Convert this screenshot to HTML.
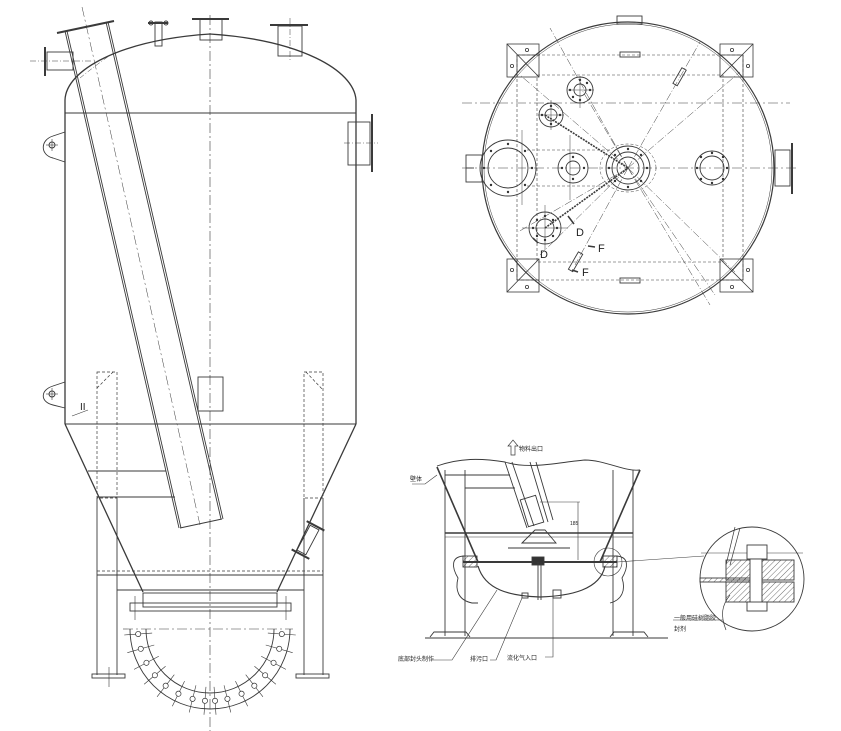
<!DOCTYPE html>
<html><head><meta charset="utf-8"><style>
html,body{margin:0;padding:0;background:#fff;}
svg{display:block;}
text{font-family:"Liberation Sans","Noto Sans CJK SC",sans-serif;fill:#222;}
</style></head><body>
<svg width="841" height="731" viewBox="0 0 841 731" xmlns="http://www.w3.org/2000/svg">
<defs>
<pattern id="hatch" width="4" height="4" patternUnits="userSpaceOnUse" patternTransform="rotate(45)"><line x1="0" y1="0" x2="0" y2="4" stroke="#333" stroke-width="0.7"/></pattern>
<g id="bolt"><line x1="268" y1="629" x2="296" y2="629" stroke="#333" stroke-width="0.6"/><circle cx="282" cy="629" r="2.6" fill="#fff" stroke="#333" stroke-width="0.7"/></g>
<g id="bd"><circle cx="0" cy="0" r="1.2" fill="#333" stroke="none"/></g>
</defs>
<g fill="none" stroke="#3a3a3a" stroke-width="0.9">
<!-- ===== LEFT ELEVATION ===== -->
<line x1="210" y1="15" x2="210" y2="731" stroke-dasharray="10,3,2,3" stroke-width="0.6"/>
<path d="M65,113 L65,100 C66,70 120,40 210,34 C300,40 354,70 356,100 L356,113" stroke-width="1.3"/>
<line x1="65" y1="113" x2="356" y2="113"/>
<line x1="65" y1="113" x2="65" y2="424" stroke-width="1.3"/>
<line x1="356" y1="113" x2="356" y2="424" stroke-width="1.3"/>
<line x1="65" y1="424" x2="356" y2="424"/>
<line x1="65" y1="424" x2="143" y2="592" stroke-width="1.3"/>
<line x1="356" y1="424" x2="277" y2="592" stroke-width="1.3"/>
<rect x="200" y="19" width="22" height="21"/><line x1="192" y1="19" x2="229" y2="19" stroke-width="2"/>
<rect x="278" y="26" width="24" height="30"/><line x1="270" y1="25" x2="308" y2="25" stroke-width="2"/>
<line x1="290" y1="18" x2="290" y2="62" stroke-dasharray="6,2,1,2" stroke-width="0.5"/>
<rect x="155" y="22" width="7" height="24"/>
<line x1="148" y1="23" x2="168" y2="23" stroke-width="2"/>
<circle cx="151" cy="23" r="2"/><circle cx="166" cy="23" r="2"/>
<rect x="47" y="52" width="26" height="18"/>
<line x1="45" y1="47" x2="45" y2="76" stroke-width="2"/>
<line x1="30" y1="61" x2="92" y2="61" stroke-dasharray="6,2,1,2" stroke-width="0.5"/>
<rect x="348" y="122" width="22" height="43"/>
<line x1="372" y1="114" x2="372" y2="172" stroke-width="2"/>
<line x1="344" y1="143" x2="378" y2="143" stroke-dasharray="6,2,1,2" stroke-width="0.5"/>
<path d="M65,132 L53,136 C40,140 40,155 53,158 L65,162"/><circle cx="52" cy="145" r="3"/><line x1="46" y1="145" x2="58" y2="145" stroke-width="0.6"/><line x1="52" y1="139" x2="52" y2="151" stroke-width="0.6"/>
<path d="M65,382 L53,386 C40,390 40,402 53,405 L65,408"/><circle cx="52" cy="394" r="3"/><line x1="46" y1="394" x2="58" y2="394" stroke-width="0.6"/><line x1="52" y1="388" x2="52" y2="400" stroke-width="0.6"/>
<text x="80" y="410" font-size="10" stroke="none">II</text>
<line x1="72" y1="416" x2="88" y2="410" stroke-width="0.6"/>
<!-- inclined pipe -->
<line x1="57" y1="33" x2="114" y2="21" stroke-width="2"/>
<line x1="65" y1="31" x2="179" y2="528" stroke-width="0.9"/>
<line x1="67" y1="31" x2="181" y2="528" stroke-width="0.9"/>
<line x1="106" y1="22" x2="221" y2="519" stroke-width="0.9"/>
<line x1="108" y1="22" x2="223" y2="519" stroke-width="0.9"/>
<line x1="180" y1="528" x2="222" y2="519"/>
<line x1="82" y1="7" x2="200" y2="525" stroke-dasharray="10,3,2,3" stroke-width="0.5"/>
<path d="M80,78 C90,70 100,62 112,54" stroke-dasharray="5,2,1,2" stroke-width="0.5"/>
<rect x="198" y="377" width="25" height="34"/>
<line x1="88" y1="471" x2="166" y2="471"/>
<line x1="97" y1="497" x2="175" y2="497"/>
<g stroke-dasharray="3,2" stroke-width="0.7">
<rect x="97" y="372" width="20" height="126"/><rect x="304" y="372" width="19" height="126"/>
<line x1="97" y1="388" x2="113" y2="372"/><line x1="306" y1="372" x2="323" y2="390"/>
<line x1="97" y1="571" x2="323" y2="571"/>
</g>
<line x1="97" y1="498" x2="97" y2="675"/><line x1="117" y1="498" x2="117" y2="675"/>
<line x1="304" y1="498" x2="304" y2="675"/><line x1="323" y1="498" x2="323" y2="675"/>
<line x1="97" y1="575" x2="323" y2="575"/>
<line x1="117" y1="590" x2="304" y2="590"/>
<rect x="92" y="674" width="33" height="4"/><rect x="296" y="674" width="33" height="4"/>
<line x1="109" y1="667" x2="109" y2="687" stroke-width="0.6"/>
<rect x="130" y="603" width="161" height="8"/>
<rect x="143" y="593" width="134" height="14"/>
<line x1="135" y1="596" x2="135" y2="620" stroke-width="0.6"/><line x1="286" y1="596" x2="286" y2="620" stroke-width="0.6"/>
<g transform="rotate(28 308 540)"><rect x="303" y="526" width="10" height="28"/><line x1="298" y1="524" x2="318" y2="524" stroke-width="2"/><line x1="298" y1="556" x2="318" y2="556" stroke-width="2"/></g>
<line x1="123" y1="629" x2="293" y2="629" stroke-dasharray="10,3,2,3" stroke-width="0.6"/>
<path d="M146,629 A64,64 0 0 0 274,629"/>
<path d="M130,629 A80,80 0 0 0 290,629"/>
<use href="#bolt" transform="rotate(4 210 629)"/>
<use href="#bolt" transform="rotate(16 210 629)"/>
<use href="#bolt" transform="rotate(28 210 629)"/>
<use href="#bolt" transform="rotate(40 210 629)"/>
<use href="#bolt" transform="rotate(52 210 629)"/>
<use href="#bolt" transform="rotate(64 210 629)"/>
<use href="#bolt" transform="rotate(76 210 629)"/>
<use href="#bolt" transform="rotate(86 210 629)"/>
<use href="#bolt" transform="rotate(94 210 629)"/>
<use href="#bolt" transform="rotate(104 210 629)"/>
<use href="#bolt" transform="rotate(116 210 629)"/>
<use href="#bolt" transform="rotate(128 210 629)"/>
<use href="#bolt" transform="rotate(140 210 629)"/>
<use href="#bolt" transform="rotate(152 210 629)"/>
<use href="#bolt" transform="rotate(164 210 629)"/>
<use href="#bolt" transform="rotate(176 210 629)"/>

<!-- ===== TOP VIEW ===== -->
<circle cx="628" cy="168" r="146" stroke-width="1.2"/>
<circle cx="628" cy="168" r="144" stroke-width="0.5"/>
<rect x="617" y="16" width="25" height="8"/>
<line x1="462" y1="168" x2="798" y2="168" stroke-dasharray="10,3,2,3" stroke-width="0.6"/>
<line x1="462" y1="103" x2="790" y2="103" stroke-dasharray="10,3,2,3" stroke-width="0.6"/>
<g stroke-dasharray="3,2" stroke-width="0.6">
<rect x="517" y="55" width="226" height="225"/>
<rect x="537" y="75" width="186" height="187"/>
<line x1="527" y1="150" x2="610" y2="150"/><line x1="527" y1="186" x2="610" y2="186"/>
</g>
<g stroke-width="0.8">
<rect x="507" y="44" width="32" height="33"/><line x1="507" y1="44" x2="539" y2="77"/><path d="M517,77 L517,55 L539,55"/><circle cx="527" cy="50" r="1.6"/><circle cx="512" cy="66" r="1.6"/>
<rect x="720" y="44" width="33" height="33"/><line x1="753" y1="44" x2="720" y2="77"/><path d="M720,55 L743,55 L743,77"/><circle cx="732" cy="50" r="1.6"/><circle cx="748" cy="66" r="1.6"/>
<rect x="507" y="259" width="32" height="33"/><line x1="539" y1="259" x2="507" y2="292"/><path d="M517,259 L517,280 L539,280"/><circle cx="512" cy="270" r="1.6"/><circle cx="527" cy="287" r="1.6"/>
<rect x="720" y="259" width="33" height="33"/><line x1="720" y1="259" x2="753" y2="292"/><path d="M720,280 L743,280 L743,259"/><circle cx="748" cy="270" r="1.6"/><circle cx="732" cy="287" r="1.6"/>
</g>
<rect x="620" y="52" width="20" height="5"/><rect x="620" y="278" width="20" height="5"/>
<circle cx="580" cy="90" r="13"/><circle cx="580" cy="90" r="6"/>
<circle cx="551" cy="115" r="12"/><circle cx="551" cy="115" r="6"/>
<circle cx="573" cy="168" r="15"/><circle cx="573" cy="168" r="7"/>
<circle cx="628" cy="168" r="22"/><circle cx="628" cy="168" r="16"/><circle cx="628" cy="168" r="11"/>
<ellipse cx="628" cy="168" rx="28" ry="24" stroke-dasharray="3,2" stroke-width="0.5"/>
<circle cx="712" cy="168" r="17"/><circle cx="712" cy="168" r="12"/>
<circle cx="508" cy="168" r="28"/><circle cx="508" cy="168" r="20"/>
<circle cx="545" cy="228" r="16"/><circle cx="545" cy="228" r="9"/>
<line x1="522" y1="228" x2="568" y2="228" stroke-width="0.5"/><line x1="545" y1="205" x2="545" y2="250" stroke-width="0.5"/>
<line x1="568" y1="90" x2="594" y2="90" stroke-width="0.5"/><line x1="580" y1="76" x2="580" y2="108" stroke-width="0.5"/>
<line x1="538" y1="115" x2="564" y2="115" stroke-width="0.5"/><line x1="551" y1="100" x2="551" y2="130" stroke-width="0.5"/>
<line x1="522" y1="130" x2="522" y2="205" stroke-width="0.5"/>
<line x1="570" y1="135" x2="570" y2="200" stroke-width="0.5"/>
<!-- bolt dots -->
<g>
<use href="#bd" x="580" y="80"/><use href="#bd" x="590" y="90"/><use href="#bd" x="580" y="100"/><use href="#bd" x="570" y="90"/><use href="#bd" x="587" y="83"/><use href="#bd" x="573" y="97"/>
<use href="#bd" x="551" y="106"/><use href="#bd" x="560" y="115"/><use href="#bd" x="551" y="124"/><use href="#bd" x="542" y="115"/>
<use href="#bd" x="573" y="157"/><use href="#bd" x="584" y="168"/><use href="#bd" x="573" y="179"/><use href="#bd" x="562" y="168"/>
<use href="#bd" x="628" y="149"/><use href="#bd" x="647" y="168"/><use href="#bd" x="628" y="187"/><use href="#bd" x="609" y="168"/><use href="#bd" x="641" y="155"/><use href="#bd" x="615" y="181"/><use href="#bd" x="641" y="181"/><use href="#bd" x="615" y="155"/>
<use href="#bd" x="712" y="153"/><use href="#bd" x="727" y="168"/><use href="#bd" x="712" y="183"/><use href="#bd" x="697" y="168"/><use href="#bd" x="723" y="157"/><use href="#bd" x="701" y="179"/><use href="#bd" x="723" y="179"/><use href="#bd" x="701" y="157"/>
<use href="#bd" x="508" y="144"/><use href="#bd" x="532" y="168"/><use href="#bd" x="508" y="192"/><use href="#bd" x="484" y="168"/><use href="#bd" x="525" y="151"/><use href="#bd" x="491" y="185"/><use href="#bd" x="525" y="185"/><use href="#bd" x="491" y="151"/>
<use href="#bd" x="545" y="216"/><use href="#bd" x="557" y="228"/><use href="#bd" x="545" y="240"/><use href="#bd" x="533" y="228"/><use href="#bd" x="553" y="220"/><use href="#bd" x="537" y="236"/><use href="#bd" x="553" y="236"/><use href="#bd" x="537" y="220"/>
</g>
<rect x="775" y="150" width="15" height="36"/><line x1="792" y1="143" x2="792" y2="194" stroke-width="2"/>
<rect x="466" y="155" width="16" height="27"/><line x1="466" y1="168" x2="474" y2="168"/>
<g stroke-dasharray="8,2,1,2" stroke-width="0.5">
<line x1="628" y1="168" x2="550" y2="28"/>
<line x1="628" y1="168" x2="700" y2="42"/>
<line x1="628" y1="168" x2="710" y2="305"/>
<line x1="628" y1="168" x2="715" y2="295"/>
<line x1="628" y1="168" x2="520" y2="75"/>
<line x1="628" y1="168" x2="735" y2="272"/>
<line x1="628" y1="168" x2="518" y2="232"/>
<line x1="628" y1="168" x2="540" y2="255"/>
<line x1="628" y1="168" x2="575" y2="265"/>
<line x1="628" y1="168" x2="740" y2="72"/>
<line x1="628" y1="168" x2="582" y2="90"/>
</g>
<line x1="545" y1="115" x2="628" y2="168" stroke-width="1.6" stroke-dasharray="2,1"/>
<line x1="545" y1="228" x2="628" y2="168" stroke-width="1.6" stroke-dasharray="2,1"/>
<rect x="677" y="68" width="5" height="18" transform="rotate(30 680 77)"/>
<rect x="573" y="252" width="5" height="20" transform="rotate(30 576 262)"/>
<text x="576" y="236" font-size="11" stroke="none">D</text>
<text x="540" y="258" font-size="11" stroke="none">D</text>
<text x="598" y="252" font-size="11" stroke="none">F</text>
<text x="582" y="276" font-size="11" stroke="none">F</text>
<path d="M568,216 L574,224 M595,247 L588,246 M578,272 L572,270 M538,243 L533,238" stroke-width="1.5"/>

<!-- ===== BOTTOM DETAIL ===== -->
<path d="M437,466 C460,458 480,458 505,462 C530,470 560,462 585,460 C605,460 625,472 640,470"/>
<line x1="445" y1="470" x2="445" y2="636"/><line x1="465" y1="470" x2="465" y2="636"/>
<line x1="613" y1="470" x2="613" y2="636"/><line x1="633" y1="470" x2="633" y2="636"/>
<line x1="425" y1="638" x2="668" y2="638"/>
<path d="M430,637 L434,632 L466,632 L470,637"/><path d="M610,637 L614,632 L644,632 L648,637"/>
<line x1="445" y1="533" x2="633" y2="533" stroke-width="1.4"/>
<line x1="445" y1="537" x2="633" y2="537" stroke-width="0.5"/>
<line x1="437" y1="467" x2="478" y2="562" stroke-width="1.6"/>
<line x1="640" y1="470" x2="600" y2="562" stroke-width="1.6"/>
<line x1="445" y1="475" x2="510" y2="475"/><line x1="465" y1="488" x2="515" y2="488"/>
<line x1="505" y1="462" x2="527" y2="528"/><line x1="512" y1="462" x2="534" y2="526"/>
<line x1="530" y1="462" x2="548" y2="522"/><line x1="536" y1="462" x2="553" y2="520"/>
<rect x="524" y="497" width="16" height="28" transform="rotate(-17 532 511)"/>
<path d="M522,543 L535,530 L545,530 L556,543 Z"/>
<line x1="508" y1="548" x2="570" y2="548"/>
<line x1="578" y1="502" x2="578" y2="560" stroke-width="0.6"/><line x1="540" y1="502" x2="580" y2="502" stroke-width="0.6"/>
<text x="570" y="525" font-size="5" stroke="none">185</text>
<line x1="463" y1="562" x2="617" y2="562" stroke-width="2"/>
<rect x="463" y="556" width="14" height="11" fill="url(#hatch)"/><rect x="603" y="556" width="14" height="11" fill="url(#hatch)"/>
<rect x="532" y="557" width="12" height="8" fill="#333"/>
<path d="M478,566 C485,590 510,596 540,597 C570,596 600,590 605,566" stroke-width="1.2"/>
<line x1="538" y1="562" x2="538" y2="600"/><line x1="541" y1="562" x2="541" y2="600"/>
<rect x="553" y="590" width="8" height="8"/><rect x="522" y="593" width="6" height="5"/>
<path d="M465,556 C450,556 452,568 458,578 C455,590 458,600 472,603 L478,603"/>
<path d="M615,556 C630,556 628,568 622,578 C626,590 622,600 610,603"/>
<circle cx="608" cy="562" r="14" stroke-width="0.6"/>
<line x1="617" y1="562" x2="704" y2="556" stroke-width="0.6"/>
<path d="M412,484 L425,484 L437,475" stroke-width="0.6"/>
<path d="M430,660 L452,660 L497,590" stroke-width="0.6"/>
<path d="M490,660 L496,660 L522,598" stroke-width="0.6"/>
<path d="M545,657 L553,657 L553,598" stroke-width="0.6"/>
<path d="M511,455 L511,446 L508,446 L513,440 L518,446 L515,446 L515,455 Z" stroke-width="0.7"/>
<circle cx="752" cy="579" r="52"/>
<line x1="701" y1="553" x2="803" y2="553" stroke-width="0.6"/>
<rect x="726" y="560" width="68" height="20" fill="url(#hatch)"/>
<rect x="726" y="582" width="68" height="20" fill="url(#hatch)"/>
<rect x="700" y="578" width="60" height="4" fill="url(#hatch)"/>
<rect x="747" y="545" width="20" height="14" fill="#fff"/>
<rect x="750" y="559" width="12" height="48" fill="#fff"/>
<rect x="747" y="602" width="20" height="9" fill="#fff"/>
<line x1="735" y1="527" x2="726" y2="565" stroke-width="0.7"/><line x1="740" y1="528" x2="730" y2="565" stroke-width="0.7"/>
<path d="M730,595 C722,605 720,615 726,630" stroke-width="0.7"/>
<path d="M723,620 L673,620" stroke-width="0.6"/>
</g>
<g stroke="none" font-size="6">
<text x="519" y="451">物料出口</text>
<text x="410" y="481">壁体</text>
<text x="398" y="661">底部封头制作</text>
<text x="470" y="661">排污口</text>
<text x="507" y="660">流化气入口</text>
<text x="674" y="620">一般用硅树脂胶</text>
<text x="674" y="631">封剂</text>
</g>
</svg>
</body></html>
